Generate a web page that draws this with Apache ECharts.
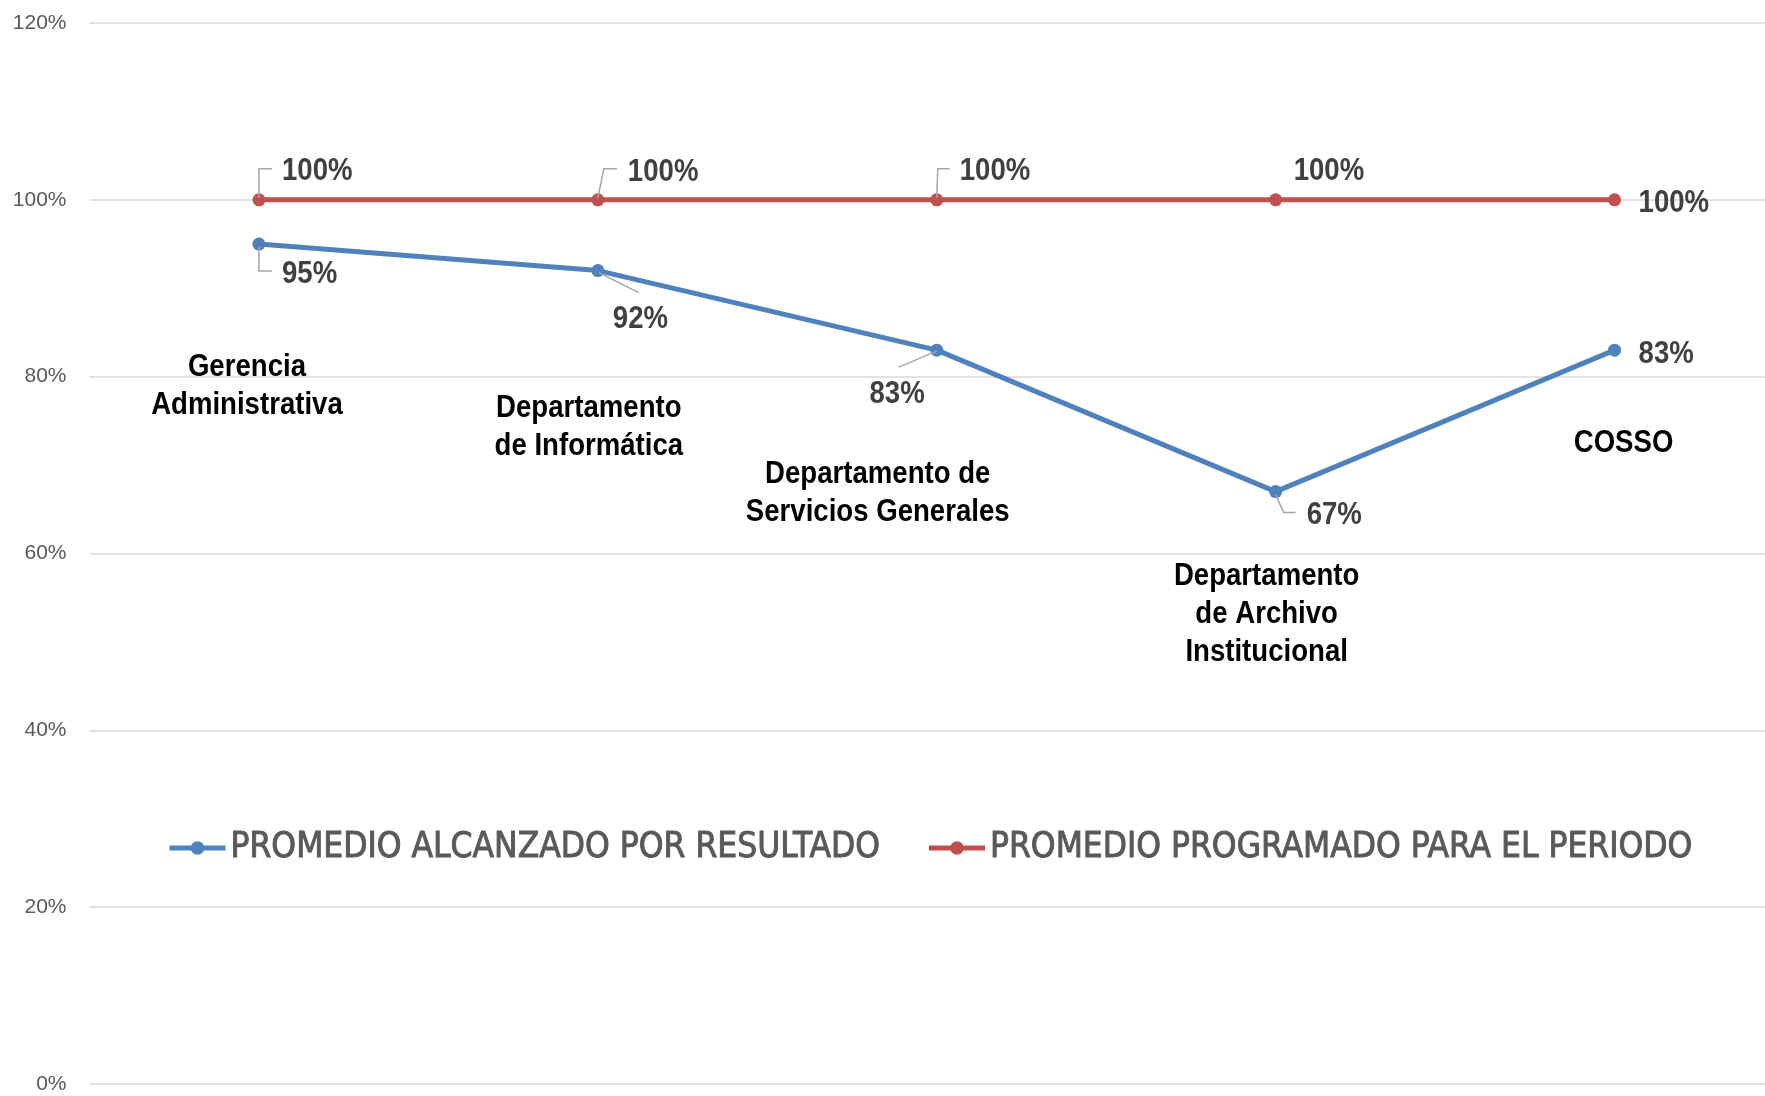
<!DOCTYPE html>
<html>
<head>
<meta charset="utf-8">
<script src="https://cdn.jsdelivr.net/npm/echarts@6/dist/echarts.min.js"></script>
<style>
html, body { margin: 0; padding: 0; background: #fff; overflow: hidden; }
/* el grafico original sale cortado por la derecha */
#main { width: 1784px; height: 1096px; }
</style>
</head>
<body>
<div id="main"></div>
<script>
// datos
var categories = ['Gerencia\nAdministrativa', 'Departamento\nde Informática', 'Departamento de\nServicios Generales', 'Departamento\nde Archivo\nInstitucional', 'COSSO'];
var alcanzado = [95, 92, 83, 67, 83];
var programado = [100, 100, 100, 100, 100];
var serieNames = ['PROMEDIO ALCANZADO POR RESULTADO', 'PROMEDIO PROGRAMADO PARA EL PERIODO'];

// layout de etiquetas (px respecto al punto)
var BOLD = "'Liberation Sans', Arial, sans-serif";
var NARROW = "'DejaVu Sans Condensed', 'Liberation Sans', sans-serif";
var SQUEEZE = 0.89;  // simula la fuente estrecha
var redOffsets = [[23, -28], [30, -27], [23, -28], [18, -28], [24, 4]];
var blueOffsets = [[23, 30, 'left'], [15, 49, 'left'], [-12, 44, 'right'], [31, 24, 'left'], [24, 4, 'left']];
var redLeaders = [[[0, -2], [0, -31], [13, -31]], [[0, -2], [6, -31], [19, -31]], [[0, -2], [1, -31], [13, -31]], null, null];
var blueLeaders = [[[0, 3], [0, 27], [13, 27]], [[1, 2], [41, 22]], [[0, 1], [-38, 17]], [[0, 3], [8, 21], [20, 21]], null];
// etiquetas de categoria: [dx px, valor del eje y]
var catLabelAt = [[-12, 78.9], [-9, 74.3], [-59, 66.8], [-9, 53.1], [9, 72.4]];

var chart = echarts.init(document.getElementById('main'));
var option = {
    animation: false,
    backgroundColor: '#fff',
    grid: { left: 89.5, right: 0, top: 23, bottom: 12 },
    legend: {
        left: 167,
        top: 828,
        padding: 0,
        itemGap: 46,
        itemWidth: 56,
        itemHeight: 17,
        lineStyle: { width: 5 },
        textStyle: {
            color: '#595959',
            fontSize: 35,
            fontFamily: NARROW,
            lineHeight: 40,
            textBorderColor: '#595959',
            textBorderWidth: 0.9
        },
        data: serieNames
    },
    xAxis: {
        type: 'category',
        data: categories,
        boundaryGap: true,
        axisLine: { show: false },
        axisTick: { show: false },
        axisLabel: { show: false }
    },
    yAxis: {
        type: 'value',
        min: 0,
        max: 120,
        interval: 20,
        axisLine: { show: false },
        axisTick: { show: false },
        axisLabel: {
            formatter: '{value}%',
            color: '#595959',
            fontSize: 21,
            fontFamily: "'Liberation Sans', sans-serif",
            margin: 23
        },
        splitLine: { lineStyle: { color: '#d9d9d9', width: 1.5 } }
    },
    series: [
        {
            name: serieNames[0],
            type: 'line',
            data: alcanzado,
            symbol: 'circle',
            symbolSize: 13,
            lineStyle: { color: '#4f81bd', width: 5 },
            itemStyle: { color: '#4f81bd' },
            emphasis: { disabled: true }
        },
        {
            name: serieNames[1],
            type: 'line',
            data: programado,
            symbol: 'circle',
            symbolSize: 13,
            lineStyle: { color: '#c0504d', width: 5 },
            itemStyle: { color: '#c0504d' },
            emphasis: { disabled: true }
        }
    ]
};
chart.setOption(option);

// etiquetas de datos, lineas guia y nombres de categoria
var graphics = [];
function addLabels(values, offsets, leaders) {
    values.forEach(function (v, i) {
        var p = chart.convertToPixel({ gridIndex: 0 }, [i, v]);
        if (leaders[i]) {
            graphics.push({
                type: 'polyline',
                z: 10,
                silent: true,
                shape: { points: leaders[i].map(function (d) { return [p[0] + d[0], p[1] + d[1]]; }) },
                style: { stroke: '#a6a6a6', lineWidth: 1.5, fill: null }
            });
        }
        graphics.push({
            type: 'text',
            z: 10,
            silent: true,
            x: p[0] + offsets[i][0],
            y: p[1] + offsets[i][1],
            scaleX: SQUEEZE,
            style: {
                text: v + '%',
                align: offsets[i][2] || 'left',
                verticalAlign: 'middle',
                fill: '#404040',
                fontSize: 31,
                fontWeight: 'bold',
                fontFamily: BOLD
            }
        });
    });
}
addLabels(alcanzado, blueOffsets, blueLeaders);
addLabels(programado, redOffsets, redLeaders);

categories.forEach(function (name, i) {
    var p = chart.convertToPixel({ gridIndex: 0 }, [i, catLabelAt[i][1]]);
    graphics.push({
        type: 'text',
        z: 10,
        silent: true,
        x: p[0] + catLabelAt[i][0],
        y: p[1],
        scaleX: SQUEEZE,
        style: {
            text: name,
            align: 'center',
            verticalAlign: 'middle',
            fill: '#000',
            fontSize: 31,
            fontWeight: 'bold',
            fontFamily: BOLD,
            lineHeight: 38
        }
    });
});
chart.setOption({ graphic: graphics });
</script>
</body>
</html>
